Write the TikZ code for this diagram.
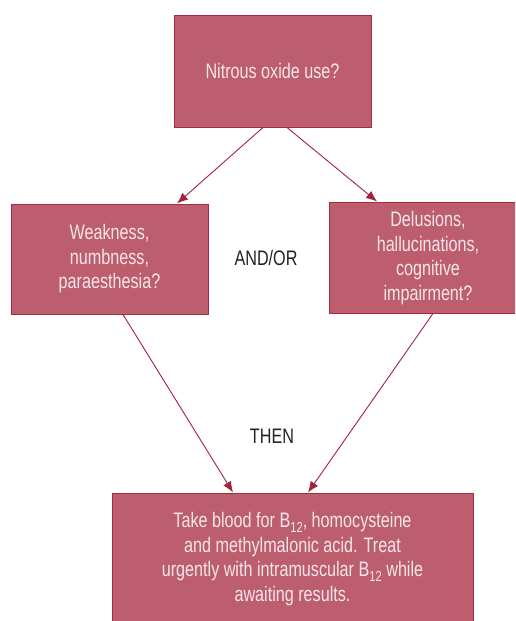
\documentclass[tikz,border=0pt]{standalone}
\usepackage{fontspec}
\setmainfont[FakeStretch=0.77]{Liberation Sans}
\usetikzlibrary{arrows.meta,calc}
\definecolor{boxfill}{HTML}{BC5E6E}
\definecolor{boxline}{HTML}{A52A44}
\definecolor{boxtext}{HTML}{F5E6E9}
\definecolor{arrowc}{HTML}{A3223D}
\definecolor{labelc}{HTML}{222222}
\newcommand\lowsub[1]{\raisebox{-5pt}{\fontsize{14.5}{14.5}\selectfont #1}}
\tikzset{
  flowbox/.style={draw=boxline, fill=boxfill, line width=1pt, text=boxtext,
    align=center, inner sep=0pt, font=\fontsize{21}{24.5}\selectfont},
  boxtextstyle/.style={text=boxtext, align=center, inner sep=0pt, font=\fontsize{21}{24.5}\selectfont},
  flowarrow/.style={draw=arrowc, line width=0.9pt, -{Latex[length=11pt,width=9pt]}},
  flowlabel/.style={text=labelc, font=\fontsize{21}{24}\selectfont, inner sep=0pt}
}
\begin{document}
\begin{tikzpicture}[x=1pt,y=-1pt]
\useasboundingbox (0,0) rectangle (515,621);
\clip (0,0) rectangle (515,621);
\fill[white] (0,0) rectangle (515,621);
\node[flowbox, minimum width=197pt, minimum height=112pt] (top) at (272.5,71) {Nitrous oxide use?};
\node[flowbox, minimum width=197pt, minimum height=110pt] (left) at (109.5,259) {Weakness,\\numbness,\\paraesthesia?};
\node[flowbox, minimum width=200pt, minimum height=111pt] (right) at (429,257.5) {};
\node[boxtextstyle] (righttext) at (428,258) {Delusions,\\hallucinations,\\cognitive\\impairment?};
\node[flowbox, minimum width=361pt, minimum height=134pt] (bottom) at (292.5,560) {};
\node[boxtextstyle] (bottomtext) at (292.5,559) {Take blood for B\lowsub{12}, homocysteine\\and methylmalonic acid. Treat\\urgently with intramuscular B\lowsub{12} while\\awaiting results.};
\node[flowlabel] (andor) at (266,258) {AND/OR};
\node[flowlabel] (then) at (272,436) {THEN};
\draw[flowarrow] ([xshift=-9.5pt]top.south) -- ([xshift=67.5pt]left.north);
\draw[flowarrow] ([xshift=14.5pt]top.south) -- ([xshift=-52pt]right.north);
\draw[flowarrow] ([xshift=13.5pt]left.south) -- ([xshift=-59.5pt]bottom.north);
\draw[flowarrow] ([xshift=4pt]right.south) -- ([xshift=15.5pt]bottom.north);
\end{tikzpicture}
\end{document}
